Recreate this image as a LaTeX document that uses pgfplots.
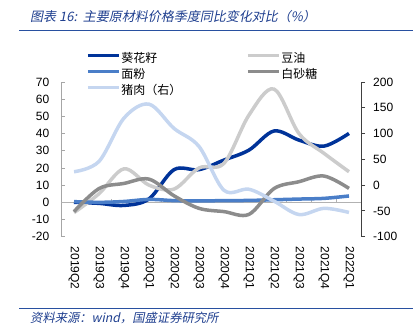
\documentclass[border=0pt]{standalone}
\usepackage{fontspec}
\setmainfont{Liberation Sans}
\newfontfamily\cjk{Noto Sans CJK SC}
\newfontfamily\cjkit[FakeSlant=0.2]{Noto Sans CJK SC}
\usepackage{pgfplots}
\usepackage{pgfplotstable}
\pgfplotsset{compat=1.18}

\definecolor{titleblue}{RGB}{31,63,143}
\definecolor{lineblue}{RGB}{40,80,160}
\definecolor{csun}{RGB}{0,51,153}
\definecolor{csoy}{RGB}{204,204,204}
\definecolor{cflour}{RGB}{74,126,200}
\definecolor{csugar}{RGB}{140,140,140}
\definecolor{cpork}{RGB}{197,214,240}

\pgfplotstableread{
x sun soy flour sugar pork
0 0 -6 0.4 -5.4 26
1 -0.6 5 0 8 46
2 -1.8 19.5 0.5 11 130
3 2 10 1.7 13.5 157
4 19 7.7 1 3.8 110
5 19 20 0.8 -3.5 75
6 24.6 22.7 1 -5.4 -10
7 30.4 50.8 1.1 -7 -8
8 41.5 65.9 1.5 8 -31
9 36.2 40 1.9 12 -57
10 32.7 28.5 2.3 15.3 -45
11 40.1 17.8 3.7 8.1 -53
}\data

\begin{document}
\begin{tikzpicture}[x=1pt,y=1pt]
\path[use as bounding box] (0,0) rectangle (420,335);
\node[anchor=west, text=titleblue, inner sep=0] at (30,318) {\cjkit\fontsize{13}{15}\selectfont 图表 16:\ \ 主要原材料价格季度同比变化对比（\%）};
\draw[lineblue, line width=1.7] (19,304.5) -- (413,304.5);
\draw[lineblue, line width=1.5] (19,26.7) -- (413,26.7);
\node[anchor=west, text=titleblue, inner sep=0] at (30,17.3) {\cjkit\fontsize{12.3}{14}\selectfont 资料来源：wind，国盛证券研究所};

\begin{axis}[
  at={(61.5pt,98.3pt)}, anchor=south west, scale only axis,
  width=300pt, height=154.7pt,
  xmin=-0.5, xmax=11.5, ymin=-20, ymax=70,
  axis x line*=bottom, axis y line*=left,
  x axis line style={draw=none},
  y axis line style={draw=gray!70, line width=0.8pt},
  xtick={0,...,11},
  xticklabels={2019Q2,2019Q3,2019Q4,2020Q1,2020Q2,2020Q3,2020Q4,2021Q1,2021Q2,2021Q3,2021Q4,2022Q1},
  major x tick style={draw=none},
  xticklabel style={rotate=-90, anchor=west, inner sep=0pt, font=\fontsize{12}{14}\selectfont},
  xticklabel shift=10pt,
  ytick={-20,-10,...,70},
  major y tick style={draw=gray!70, line width=0.8pt},
  major tick length=3.5pt,
  yticklabel style={inner sep=0pt, font=\fontsize{12}{14}\selectfont},
  yticklabel shift=12pt,
  /pgf/number format/assume math mode=true,
  legend columns=2,
  legend cell align=left,
  legend style={at={(axis description cs:0.082,1.19)}, anchor=north west, draw=none, fill=none, inner sep=0pt,
     nodes={inner sep=1pt, text height=9pt, text depth=2pt, font=\cjk\fontsize{12}{14}\selectfont},
     row sep=3pt, /tikz/every even column/.append style={column sep=64pt}},
  legend image code/.code={\draw[#1, line width=3pt] (0pt,3.5pt) -- (31pt,3.5pt);},
  every axis plot/.append style={line width=3.5pt, smooth, tension=0.55},
]
\draw[gray!60, line width=1pt] (axis cs:-0.5,0) -- (axis cs:11.5,0);
\pgfplotsinvokeforeach{0.5,1.5,...,10.5}{\draw[gray!60, line width=0.8pt] (axis cs:#1,0) -- ([yshift=3.5pt]axis cs:#1,0);}
\addplot[csun] table[x=x,y=sun]{\data};
\addlegendentry{葵花籽}
\addplot[csoy] table[x=x,y=soy]{\data};
\addlegendentry{豆油}
\addplot[cflour] table[x=x,y=flour]{\data};
\addlegendentry{面粉}
\addplot[csugar] table[x=x,y=sugar]{\data};
\addlegendentry{白砂糖}
\addlegendimage{cpork}
\addlegendentry{猪肉（右）}
\end{axis}

\begin{axis}[
  at={(61.5pt,98.3pt)}, anchor=south west, scale only axis,
  width=300pt, height=154.7pt,
  xmin=-0.5, xmax=11.5, ymin=-100, ymax=200,
  axis x line=none, axis y line*=right,
  y axis line style={draw=black!75, line width=1pt},
  ytick={-100,-50,...,200},
  major y tick style={draw=black!75, line width=1pt},
  major tick length=3.5pt, tick align=outside,
  yticklabel style={inner sep=0pt, font=\fontsize{12}{14}\selectfont},
  yticklabel shift=8pt,
  /pgf/number format/assume math mode=true,
  every axis plot/.append style={line width=3.5pt, smooth, tension=0.55},
]
\addplot[cpork] table[x=x,y=pork]{\data};
\end{axis}
\end{tikzpicture}
\end{document}
